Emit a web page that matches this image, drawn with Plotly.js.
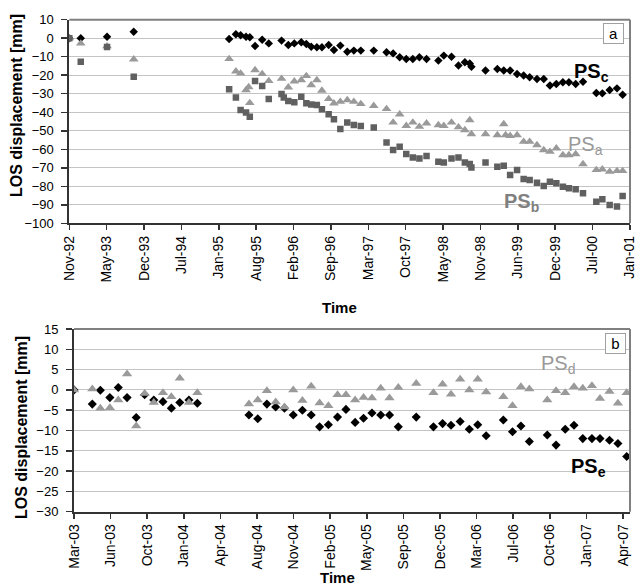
<!DOCTYPE html>
<html><head><meta charset="utf-8">
<script src="https://cdn.plot.ly/plotly-3.0.1.min.js"></script>
<style>html,body{margin:0;padding:0;background:#fff;} #chart{width:636px;height:586px;}</style>
</head><body><div id="chart"></div>
<script>
// ---------- Panel a (1992-2001) ----------
const datesA = ['1992-11-19','1993-01-19','1993-06-08','1993-10-28',
 '1995-03-20','1995-04-25','1995-05-20','1995-06-18','1995-07-02','1995-07-08','1995-08-05','1995-09-12','1995-10-17','1995-12-24','1996-01-05',
 '1996-01-29','1996-03-01','1996-04-07','1996-05-04','1996-05-30','1996-06-29','1996-07-26','1996-08-31','1996-09-28','1996-11-01','1996-12-08',
 '1997-01-12','1997-02-18','1997-04-28','1997-07-05','1997-08-09','1997-09-13','1997-10-18','1997-11-22','1997-12-27',
 '1998-02-03','1998-04-07','1998-05-06','1998-06-16','1998-07-23','1998-08-26','1998-09-21','1998-09-30','1998-12-14',
 '1999-02-15','1999-03-21','1999-03-31','1999-04-24','1999-05-31','1999-07-05','1999-08-06','1999-09-14','1999-10-20','1999-11-22','1999-12-26',
 '2000-01-30','2000-03-02','2000-04-07','2000-05-16','2000-07-26','2000-08-27','2000-10-05','2000-11-13','2000-12-13'];
const psC = [0,0,0.8,3.5,
 -0.4,2.1,1.6,0.8,null,0.5,-4.2,-0.8,-2.8,-1.3,null,
 -3.7,-2.8,-2.2,-3.1,-4.6,-4.9,-4.9,-3.7,-6.4,-4.0,-7.3,
 -6.7,-6.7,-6.7,-7.6,-8.2,-10.3,-11.2,-11.2,-10.3,
 -11.2,-12.1,-9.4,-10.0,-14.8,-13.0,-13.6,-15.4,-17.5,
 -16.6,-17.5,null,-17.5,-19.3,-20.2,-21.1,-22.0,-22.0,-25.6,-24.7,
 -23.8,-23.8,-24.7,-23.5,-29.6,-29.8,-28.0,-27.1,-30.5];
const psA = [0,-2.8,-4.3,-11.4,
 -11.2,-17.9,-19.0,-28.0,-26.4,-35.0,-17.2,-19.3,-23.1,-21.9,null,
 -26.5,-23.3,-22.6,-20.4,-25.3,-22.6,-28.3,-32.8,-35.2,-34.3,-33.4,
 -34.3,-35.5,-36.5,-38.2,-45.5,-41.1,-47.3,-45.5,-47.8,
 -46.0,-46.9,-47.3,-45.5,-48.1,-49.6,-44.2,-51.8,-51.8,
 -52.3,-46.4,-52.3,-52.7,-52.3,-55.9,-55.9,-57.7,-60.4,-61.3,-59.5,
 -63.1,-63.1,-62.6,-68.0,-71.2,-70.8,-72.1,-71.7,-71.7];
const psB = [0,-12.7,-4.8,-20.8,
 -27.6,-32.1,-38.8,-40.2,null,-42.4,-23.1,-25.8,-32.9,-30.1,-32.1,
 -33.9,-34.6,-31.6,-35.2,-35.8,-36.1,-38.4,-41.1,-43.8,-49.1,-45.6,
 -46.9,-47.4,-48.3,-56.4,-60.4,-58.6,-62.6,-64.4,-65.0,
 -63.6,-66.7,-67.1,-65.0,-64.4,-67.1,-68.0,-69.8,-67.2,
 -69.4,-68.9,null,-73.9,-71.2,-76.1,-76.6,-78.1,-79.8,-77.5,-78.4,
 -80.2,-81.1,-81.6,-83.8,-88.3,-87.0,-90.1,-90.9,-85.3];
const tickLabelsA = ['Nov-92','May-93','Dec-93','Jul-94','Jan-95','Aug-95','Feb-96','Sep-96',
 'Mar-97','Oct-97','May-98','Nov-98','Jun-99','Dec-99','Jul-00','Jan-01'];

// ---------- Panel b (2003-2007) ----------
const datesB = ['2003-03-21','2003-05-10','2003-06-01','2003-06-27','2003-07-20','2003-08-13','2003-09-07','2003-09-30',
 '2003-10-25','2003-11-19','2003-12-12','2004-01-04','2004-01-29','2004-02-21',
 '2004-07-11','2004-08-04','2004-08-29','2004-09-22','2004-10-16','2004-11-09','2004-12-04','2004-12-28',
 '2005-01-20','2005-02-13','2005-03-10','2005-04-02','2005-04-27','2005-05-20','2005-06-12','2005-07-06','2005-07-30','2005-08-23',
 '2005-10-11','2005-11-27','2005-12-22','2006-01-14','2006-02-08','2006-03-05','2006-03-28','2006-04-20',
 '2006-06-06','2006-07-01','2006-07-24','2006-08-16','2006-10-04','2006-10-28','2006-11-22','2006-12-16',
 '2007-01-09','2007-02-03','2007-02-25','2007-03-23','2007-04-15','2007-05-09'];
const psD = [0,0.2,-4.5,-4.4,-2.5,3.9,-8.9,-0.9,
 -3.1,-0.7,-1.7,2.9,-3.1,-0.7,
 -3.5,-2.5,-0.2,-3.0,-4.2,0,-2.6,0.9,
 -3.2,-3.9,-1.2,-1.2,-2.5,-1.9,-2.0,0.4,-2.0,0.6,
 1.6,-0.7,1.4,-1.1,2.6,0,2.6,-0.5,
 -1.7,-3.9,0.8,0.2,-2.5,-0.2,-0.7,0.8,
 0.4,1.0,-2.1,-0.4,-3.3,-0.7];
const psE = [0,-3.5,-0.1,-1.9,0.6,-1.9,-6.8,-1.2,
 -2.5,-2.9,-4.5,-3.1,-2.5,-3.3,
 -6.2,-7.1,-3.5,-4.2,-4.5,-6.2,-5.0,-6.2,
 -9.1,-8.6,-6.7,-4.8,-8.0,-7.0,-5.7,-6.2,-6.2,-9.1,
 -6.7,-9.1,-8.3,-8.7,-7.8,-9.7,-8.6,-11.3,
 -7.4,-10.3,-8.9,-12.7,-11.1,-13.6,-9.7,-8.7,
 -12.0,-12.0,-12.0,-12.4,-13.2,-16.4];
const tickLabelsB = ['Mar-03','Jun-03','Oct-03','Jan-04','Apr-04','Aug-04','Nov-04','Feb-05',
 'May-05','Sep-05','Dec-05','Mar-06','Jul-06','Oct-06','Jan-07','Apr-07'];

// ---------- helpers ----------
function dayTicks(start, step, n) {
  const t0 = Date.parse(start + 'T00:00:00Z');
  return Array.from({length: n}, (_, i) => new Date(t0 + i * step * 86400000).toISOString().slice(0, 10));
}
const W = 636, H = 586;
const fx = x => x / W, fy = y => 1 - y / H;
const FONT = 'Liberation Sans, Arial, sans-serif';

const traces = [
  {x: datesA, y: psC, type: 'scatter', mode: 'markers', name: 'PSc', xaxis: 'x', yaxis: 'y',
   marker: {symbol: 'diamond', size: 6.5, color: '#000000'}},
  {x: datesA, y: psA, type: 'scatter', mode: 'markers', name: 'PSa', xaxis: 'x', yaxis: 'y',
   marker: {symbol: 'triangle-up', size: 8.5, color: '#9a9a9a'}},
  {x: datesA, y: psB, type: 'scatter', mode: 'markers', name: 'PSb', xaxis: 'x', yaxis: 'y',
   marker: {symbol: 'square', size: 6.5, color: '#606060'}},
  {x: datesB, y: psE, type: 'scatter', mode: 'markers', name: 'PSe', xaxis: 'x2', yaxis: 'y2',
   marker: {symbol: 'diamond', size: 7, color: '#000000'}},
  {x: datesB, y: psD, type: 'scatter', mode: 'markers', name: 'PSd', xaxis: 'x2', yaxis: 'y2',
   marker: {symbol: 'triangle-up', size: 9, color: '#9a9a9a'}}
];

function xAxis(domain, ticks, labels, anchor) {
  return {domain, range: [ticks[0] + ' 00:00', ticks[ticks.length - 1] + ' 06:00'], type: 'date', anchor,
    tickmode: 'array', tickvals: ticks, ticktext: labels, ticklabeloverflow: 'allow',
    tickangle: -90, ticks: 'outside', ticklen: 5, tickwidth: 1.5, tickcolor: '#333',
    showline: true, linecolor: '#333', linewidth: 2, showgrid: false, zeroline: false,
    tickfont: {family: FONT, size: 14, color: '#000'}, fixedrange: true};
}
function yAxis(domain, range, dtick, anchor) {
  return {domain, range, dtick, tick0: 0, anchor, ticks: 'outside', ticklen: 6, tickwidth: 1.5, tickcolor: '#333',
    showline: true, linecolor: '#333', linewidth: 2, showgrid: true, gridcolor: '#c4c4c4', gridwidth: 1,
    zeroline: false, ticklabelstandoff: 5, tickfont: {family: FONT, size: 13, color: '#000'}, fixedrange: true};
}

const ticksA = dayTicks('1992-11-19', 199, 16);
const ticksB = dayTicks('2003-03-21', 100, 16);
const xB = xAxis([fx(74), fx(630)], ticksB, tickLabelsB, 'y2');
xB.range = ['2003-03-21', '2007-05-18'];

const layout = {
  width: W, height: H, margin: {l: 0, r: 0, t: 0, b: 0},
  paper_bgcolor: '#fff', plot_bgcolor: '#fff', showlegend: false,
  font: {family: FONT},
  xaxis: xAxis([fx(69.3), fx(630)], ticksA, tickLabelsA, 'y'),
  yaxis: yAxis([fy(223.3), fy(19.7)], [-100, 10], 10, 'x'),
  xaxis2: xB,
  yaxis2: yAxis([fy(511.7), fy(329)], [-30, 15], 5, 'x2'),
  shapes: [
    {type: 'line', xref: 'x domain', yref: 'y domain', x0: 0, x1: 1, y0: 1, y1: 1, line: {color: '#808080', width: 2}},
    {type: 'line', xref: 'x domain', yref: 'y domain', x0: 1, x1: 1, y0: 0, y1: 1, line: {color: '#808080', width: 2}},
    {type: 'line', xref: 'x2 domain', yref: 'y2 domain', x0: 0, x1: 1, y0: 1, y1: 1, line: {color: '#808080', width: 2}},
    {type: 'line', xref: 'x2 domain', yref: 'y2 domain', x0: 1, x1: 1, y0: 0, y1: 1, line: {color: '#808080', width: 2}}
  ],
  annotations: [
    {text: 'LOS displacement [mm]', textangle: -90, x: fx(16), y: fy(106), xref: 'paper', yref: 'paper',
     xanchor: 'center', yanchor: 'middle',
     showarrow: false, font: {family: FONT, size: 16, weight: 'bold', color: '#000'}},
    {text: 'LOS displacement [mm]', textangle: -90, x: fx(21), y: fy(428), xref: 'paper', yref: 'paper',
     xanchor: 'center', yanchor: 'middle',
     showarrow: false, font: {family: FONT, size: 16, weight: 'bold', color: '#000'}},
    {text: 'Time', x: fx(339), y: fy(307), xref: 'paper', yref: 'paper', xanchor: 'center', yanchor: 'middle',
     showarrow: false, font: {family: FONT, size: 15, weight: 'bold', color: '#000'}},
    {text: 'Time', x: fx(337), y: fy(577), xref: 'paper', yref: 'paper', xanchor: 'center', yanchor: 'middle',
     showarrow: false, font: {family: FONT, size: 15, weight: 'bold', color: '#000'}},
    {text: 'a', x: fx(613), y: fy(33.3), xref: 'paper', yref: 'paper', xanchor: 'center', yanchor: 'middle',
     showarrow: false, width: 15, height: 15, borderpad: 2, bordercolor: '#a0a0a0', borderwidth: 1, bgcolor: '#fff',
     font: {family: FONT, size: 15, color: '#000'}},
    {text: 'b', x: fx(615), y: fy(343.5), xref: 'paper', yref: 'paper', xanchor: 'center', yanchor: 'middle',
     showarrow: false, width: 15, height: 15, borderpad: 2, bordercolor: '#a0a0a0', borderwidth: 1, bgcolor: '#fff',
     font: {family: FONT, size: 15, color: '#000'}},
    {text: 'PS<sub>c</sub>', x: fx(572), y: fy(73), xref: 'paper', yref: 'paper', xanchor: 'left', yanchor: 'middle',
     showarrow: false, font: {family: FONT, size: 20, weight: 'bold', color: '#000'}},
    {text: 'PS<sub>a</sub>', x: fx(566), y: fy(146), xref: 'paper', yref: 'paper', xanchor: 'left', yanchor: 'middle',
     showarrow: false, font: {family: FONT, size: 20, color: '#999999'}},
    {text: 'PS<sub>b</sub>', x: fx(502), y: fy(203), xref: 'paper', yref: 'paper', xanchor: 'left', yanchor: 'middle',
     showarrow: false, font: {family: FONT, size: 20, weight: 'bold', color: '#808080'}},
    {text: 'PS<sub>d</sub>', x: fx(539), y: fy(364), xref: 'paper', yref: 'paper', xanchor: 'left', yanchor: 'middle',
     showarrow: false, font: {family: FONT, size: 20, color: '#999999'}},
    {text: 'PS<sub>e</sub>', x: fx(569), y: fy(467), xref: 'paper', yref: 'paper', xanchor: 'left', yanchor: 'middle',
     showarrow: false, font: {family: FONT, size: 20, weight: 'bold', color: '#000'}}
  ]
};

Plotly.newPlot('chart', traces, layout, {displayModeBar: false, staticPlot: true});
</script>
</body></html>
